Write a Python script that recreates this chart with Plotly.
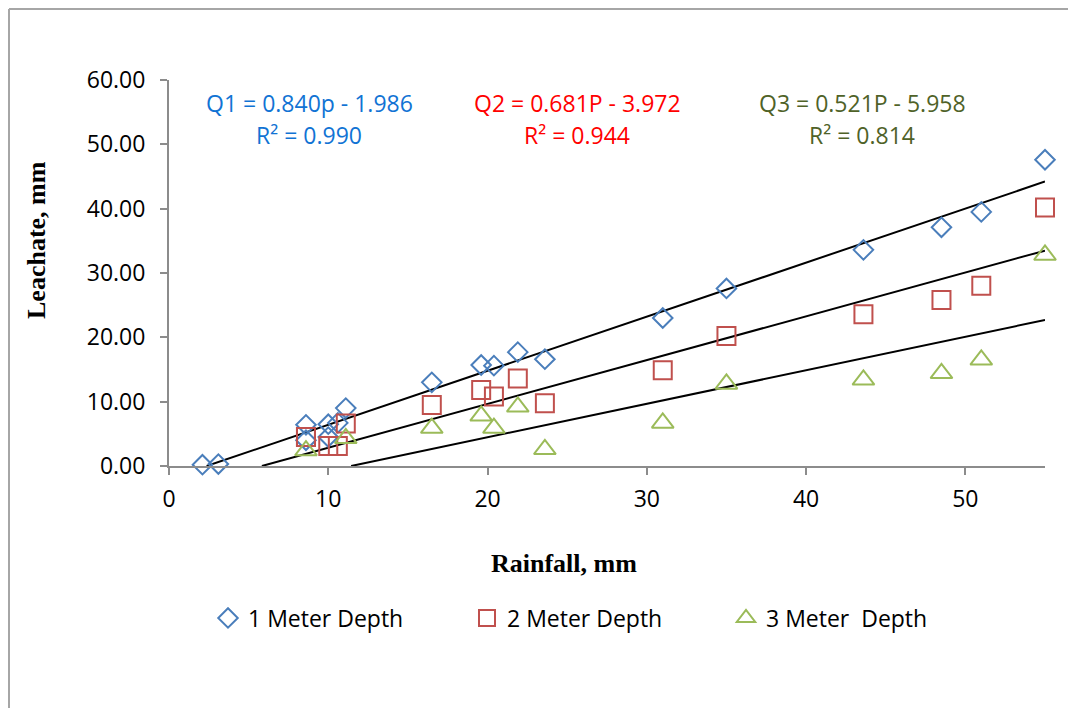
import plotly.graph_objects as go

# ---- data ----
rainfall = [2.1, 3.1, 8.6, 8.6, 10.0, 10.0, 10.6, 11.1, 16.5, 19.6, 20.4, 21.9, 23.6,
            31.0, 35.0, 43.6, 48.5, 51.0, 55.0]
depth1 = [0.2, 0.3, 6.4, 4.0, 6.5, 4.5, 6.7, 9.0, 13.0, 15.7, 15.6, 17.7, 16.6,
          23.0, 27.6, 33.6, 37.1, 39.5, 47.6]
depth2 = [None, None, 4.5, 4.5, 3.1, None, 3.1, 6.6, 9.5, 11.8, 10.8, 13.6, 9.75,
          14.9, 20.2, 23.6, 25.8, 28.0, 40.2]
depth3 = [None, None, 2.4, None, None, None, None, 4.3, 5.9, 7.8, 5.9, 9.2, 2.6,
          6.7, 12.75, 13.4, 14.4, 16.5, 32.8]

series_names = ["1 Meter Depth", "2 Meter Depth", "3 Meter\u00a0 Depth"]
trend_slopes = [0.840, 0.681, 0.521]
trend_intercepts = [-1.986, -3.972, -5.958]
trend_labels = ["Q1 = 0.840p - 1.986", "Q2 = 0.681P - 3.972", "Q3 = 0.521P - 5.958"]
r2_labels = ["R\u00b2 = 0.990", "R\u00b2 = 0.944", "R\u00b2 = 0.814"]

x_ticks = [0, 10, 20, 30, 40, 50]
y_ticks = [0, 10, 20, 30, 40, 50, 60]

colors = ["#4A7EBB", "#C0504D", "#9BBB59"]
symbols = ["diamond-open", "square-open", "triangle-up-open"]
sizes = [15, 18, 19]
label_colors = ["#1173D4", "#FF0000", "#4F6228"]

FONT = "Open Sans"
SERIF = "Liberation Serif"

# page offset (browser body margin) compensation
OFF = 8
PL, PT, PW, PH = 169, 80, 876, 386  # plot area in page pixels


def px_x(p):
    return (p - PL) / PW


def px_y(p):
    return (PT + PH - p) / PH


fig = go.Figure()

# trend lines (x from min rainfall where line is above zero, to max rainfall)
xmin, xmax = min(rainfall), max(rainfall)
for m, c in zip(trend_slopes, trend_intercepts):
    x0 = max(xmin, -c / m)
    fig.add_trace(go.Scatter(
        x=[x0, xmax], y=[m * x0 + c, m * xmax + c], mode="lines",
        line=dict(color="black", width=2), showlegend=False, hoverinfo="skip"))

for name, ys, col, sym, sz in zip(series_names, [depth1, depth2, depth3], colors, symbols, sizes):
    fig.add_trace(go.Scatter(
        x=rainfall, y=ys, mode="markers", name=name, cliponaxis=False,
        marker=dict(symbol=sym, size=sz, color=col, line=dict(color=col, width=2))))

# equation annotations
eq_x = [309, 577, 862]
for px, t1, t2, col in zip(eq_x, trend_labels, r2_labels, label_colors):
    fig.add_annotation(x=px_x(px), y=px_y(103), xref="paper", yref="paper", text=t1,
                       showarrow=False, font=dict(family=FONT, size=23, color=col),
                       xanchor="center", yanchor="middle")
    fig.add_annotation(x=px_x(px), y=px_y(135), xref="paper", yref="paper", text=t2,
                       showarrow=False, font=dict(family=FONT, size=23, color=col),
                       xanchor="center", yanchor="middle")

# axis titles
fig.add_annotation(x=px_x(36), y=px_y(240), xref="paper", yref="paper",
                   text="<b>Leachate, mm</b>", textangle=-90, showarrow=False,
                   font=dict(family=SERIF, size=26, color="black"),
                   xanchor="center", yanchor="middle")
fig.add_annotation(x=px_x(564), y=px_y(563), xref="paper", yref="paper",
                   text="<b>Rainfall, mm</b>", showarrow=False,
                   font=dict(family=SERIF, size=26, color="black"),
                   xanchor="center", yanchor="middle")

# outer chart border (left and top edges visible)
border = dict(color="#A6A6A6", width=2)
fig.add_shape(type="line", xref="paper", yref="paper",
              x0=px_x(OFF + 1), x1=px_x(OFF + 1), y0=px_y(OFF + 1), y1=px_y(720), line=border)
fig.add_shape(type="line", xref="paper", yref="paper",
              x0=px_x(OFF + 1), x1=px_x(1090), y0=px_y(OFF + 1), y1=px_y(OFF + 1), line=border)

axis_common = dict(showgrid=False, zeroline=False, showline=True, linecolor="#8C8C8C",
                   linewidth=2, ticks="outside", ticklen=7, tickcolor="#8C8C8C", tickwidth=2,
                   tickfont=dict(family=FONT, size=23, color="black"))
fig.update_xaxes(range=[0, 55], tickvals=x_ticks, ticklabelstandoff=4, **axis_common)
fig.update_yaxes(range=[0, 60], tickvals=y_ticks, tickformat=".2f", ticklabelstandoff=10, **axis_common)

fig.update_layout(
    width=1076 - OFF, height=708 - OFF, autosize=False,
    margin=dict(l=PL - OFF, r=1076 - PL - PW, t=PT - OFF, b=708 - PT - PH),
    paper_bgcolor="white", plot_bgcolor="white",
    showlegend=True,
    legend=dict(orientation="h", x=px_x(208), y=px_y(618),
                xanchor="left", yanchor="middle",
                entrywidth=214, entrywidthmode="pixels",
                font=dict(family=FONT, size=23, color="black"),
                bgcolor="rgba(0,0,0,0)"),
)

fig.write_html("out.html")
